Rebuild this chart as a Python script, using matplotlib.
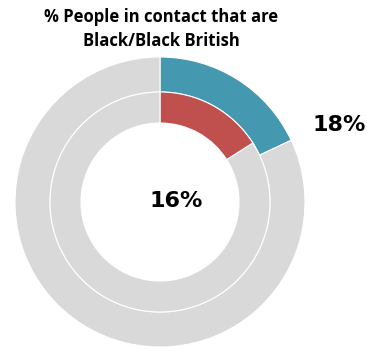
import matplotlib
matplotlib.use("Agg")
import matplotlib.pyplot as plt

title = "% People in contact that are\nBlack/Black British"
outer_values = [18, 82]
inner_values = [16, 84]
outer_label = "18%"
inner_label = "16%"
outer_colors = ["#4499B0", "#D9D9D9"]
inner_colors = ["#C0504D", "#D9D9D9"]

W, H = 372, 353
fig = plt.figure(figsize=(W / 100, H / 100), dpi=100)
ax = fig.add_axes([0, 0, 1, 1])
cx, cy = 160, H - 202

ax.pie(outer_values, radius=145, center=(cx, cy), startangle=90, counterclock=False,
       colors=outer_colors, wedgeprops=dict(width=35, edgecolor="white", linewidth=0.8), frame=True)
ax.pie(inner_values, radius=110, center=(cx, cy), startangle=90, counterclock=False,
       colors=inner_colors, wedgeprops=dict(width=31, edgecolor="white", linewidth=0.8), frame=True)

ax.set_xlim(0, W)
ax.set_ylim(0, H)
ax.set_aspect("equal")
ax.axis("off")

ax.text(161, H - 29, title, ha="center", va="center", fontsize=12, fontweight="bold",
        family="Open Sans", linespacing=1.4)
ax.text(339, H - 125, outer_label, ha="center", va="center", fontsize=16, fontweight="bold",
        family="DejaVu Sans")
ax.text(176, H - 201, inner_label, ha="center", va="center", fontsize=16, fontweight="bold",
        family="DejaVu Sans")

fig.savefig("out.png", dpi=100)
